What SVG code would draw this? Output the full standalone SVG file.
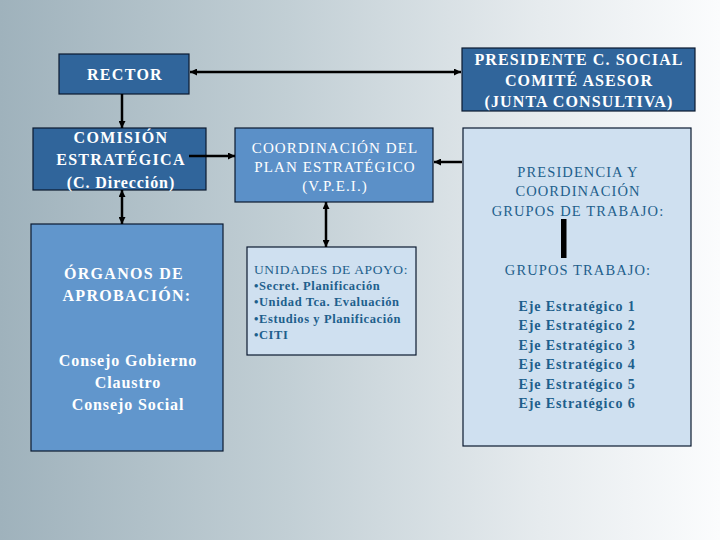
<svg xmlns="http://www.w3.org/2000/svg" width="720" height="540" viewBox="0 0 720 540">
<defs>
<linearGradient id="bg" x1="0" y1="0" x2="1" y2="0">
<stop offset="0" stop-color="#9fb2bc"/>
<stop offset="0.4" stop-color="#c2cfd5"/>
<stop offset="0.75" stop-color="#e6ebee"/>
<stop offset="1" stop-color="#fbfcfd"/>
</linearGradient>
<marker id="ah" viewBox="0 0 10 10" refX="10" refY="5" markerWidth="7" markerHeight="7" markerUnits="userSpaceOnUse" orient="auto-start-reverse">
<path d="M0,0 L10,5 L0,10 z" fill="#000"/>
</marker>
<style>
.dark{fill:#30659b;stroke:#0a1a30;stroke-width:1.2}
.mid{fill:#5b90c8;stroke:#0a1a30;stroke-width:1.2}
.org{fill:#6196cc;stroke:#0a1a30;stroke-width:1.2}
.light{fill:#cfe0f0;stroke:#0a1a30;stroke-width:1.2}
.w{fill:#fff;font-family:"Liberation Serif",serif;text-anchor:middle}
.b{font-weight:bold}
.ls13{letter-spacing:1.3px}
.ls11{letter-spacing:1.1px}
.ls9{letter-spacing:0.9px}
.ls6{letter-spacing:0.6px}
.t{fill:#1e5f8c;font-family:"Liberation Serif",serif}
.c{text-anchor:middle}
.con line{stroke:#000;stroke-width:2.5}
</style>
</defs>
<rect width="720" height="540" fill="url(#bg)"/>
<g id="rector">
<rect class="dark" x="59" y="54" width="130" height="40"/>
<text class="w b ls13" x="125" y="80" font-size="16">RECTOR</text>
</g>
<g id="presidente">
<rect class="dark" x="462" y="48" width="233" height="63"/>
<text class="w b ls11" x="579" y="65" font-size="16">PRESIDENTE C. SOCIAL</text>
<text class="w b ls11" x="579" y="86" font-size="16">COMITÉ ASESOR</text>
<text class="w b ls11" x="579" y="107" font-size="16">(JUNTA CONSULTIVA)</text>
</g>
<g id="comision">
<rect class="dark" x="33" y="128" width="173" height="62"/>
<text class="w b ls13" x="121" y="143" font-size="16">COMISIÓN</text>
<text class="w b ls13" x="121" y="165" font-size="16">ESTRATÉGICA</text>
<text class="w b ls9" x="121" y="188" font-size="16">(C. Dirección)</text>
</g>
<g id="coordinacion">
<rect class="mid" x="235" y="128" width="198" height="74"/>
<text class="w ls11" x="335" y="153" font-size="15">COORDINACIÓN DEL</text>
<text class="w ls11" x="335" y="172" font-size="15">PLAN ESTRATÉGICO</text>
<text class="w ls11" x="335" y="191" font-size="15">(V.P.E.I.)</text>
</g>
<g id="presidencia">
<rect class="light" x="463" y="128" width="228" height="318"/>
<text class="t c ls11" x="578" y="177" font-size="14.5">PRESIDENCIA Y</text>
<text class="t c ls11" x="578" y="196" font-size="14.5">COORDINACIÓN</text>
<text class="t c ls11" x="578" y="216" font-size="14.5">GRUPOS DE TRABAJO:</text>
<rect x="561" y="219" width="5.5" height="39" fill="#000"/>
<text class="t c ls11" x="578" y="275" font-size="14.5">GRUPOS TRABAJO:</text>
<text class="t c b ls9" x="577" y="311" font-size="14">Eje Estratégico 1</text>
<text class="t c b ls9" x="577" y="330" font-size="14">Eje Estratégico 2</text>
<text class="t c b ls9" x="577" y="350" font-size="14">Eje Estratégico 3</text>
<text class="t c b ls9" x="577" y="369" font-size="14">Eje Estratégico 4</text>
<text class="t c b ls9" x="577" y="389" font-size="14">Eje Estratégico 5</text>
<text class="t c b ls9" x="577" y="408" font-size="14">Eje Estratégico 6</text>
</g>
<g id="organos">
<rect class="org" x="31" y="224" width="192" height="227"/>
<text class="w b ls13" x="124" y="279" font-size="16">ÓRGANOS DE</text>
<text class="w b ls13" x="127" y="301" font-size="16">APROBACIÓN:</text>
<text class="w b ls9" x="128" y="366" font-size="16">Consejo Gobierno</text>
<text class="w b ls9" x="128" y="388" font-size="16">Claustro</text>
<text class="w b ls9" x="128" y="410" font-size="16">Consejo Social</text>
</g>
<g id="unidades">
<rect class="light" x="247" y="247" width="169" height="108"/>
<text class="t ls6" x="254" y="274" font-size="13.5">UNIDADES DE APOYO:</text>
<text class="t b ls6" x="254" y="290" font-size="12.5">•Secret. Planificación</text>
<text class="t b ls6" x="254" y="306" font-size="12.5">•Unidad Tca. Evaluación</text>
<text class="t b ls6" x="254" y="323" font-size="12.5">•Estudios y Planificación</text>
<text class="t b ls6" x="254" y="339" font-size="12.5">•CITI</text>
</g>
<g id="connectors" class="con">
<line x1="190" y1="72" x2="461" y2="72" marker-start="url(#ah)" marker-end="url(#ah)"/>
<line x1="122" y1="94" x2="122" y2="128" marker-end="url(#ah)"/>
<line x1="189" y1="156" x2="235" y2="156" marker-end="url(#ah)"/>
<line x1="122" y1="190" x2="122" y2="224" marker-start="url(#ah)" marker-end="url(#ah)"/>
<line x1="326" y1="202" x2="326" y2="247" marker-start="url(#ah)" marker-end="url(#ah)"/>
<line x1="462" y1="162" x2="434" y2="162" marker-end="url(#ah)"/>
</g>
</svg>
